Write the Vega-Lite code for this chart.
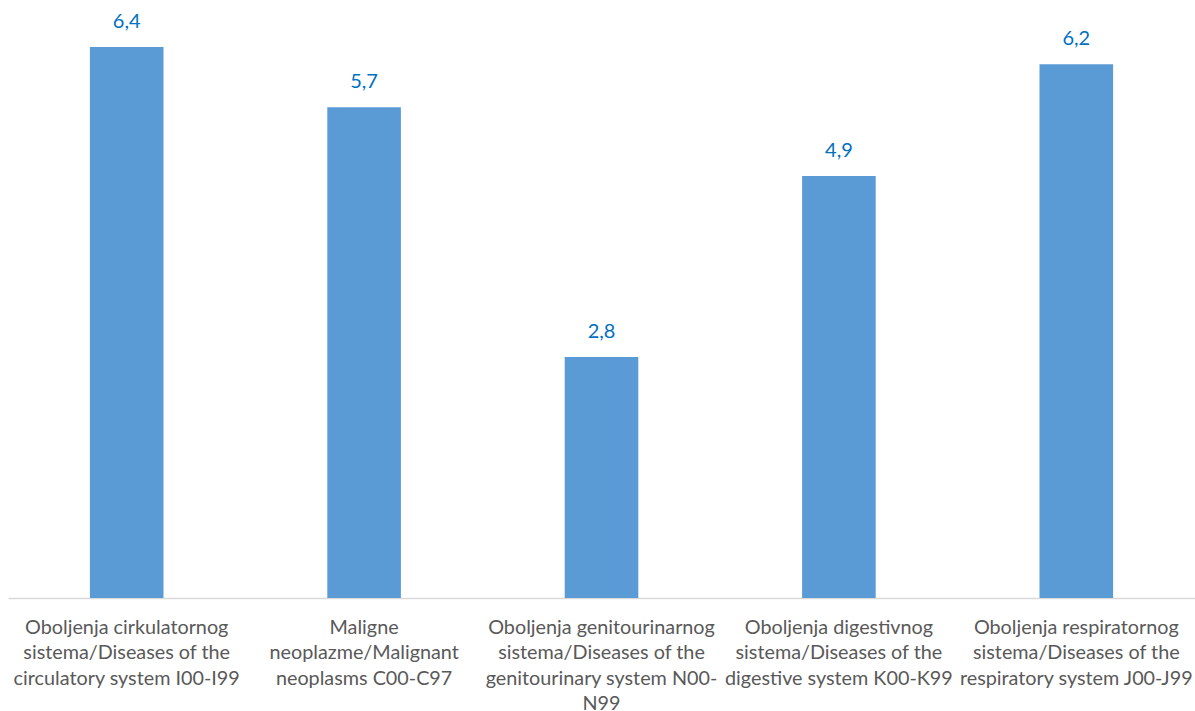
{
  "$schema": "https://vega.github.io/schema/vega-lite/v6.json",
  "width": 1187,
  "height": 598,
  "autosize": {"type": "none"},
  "padding": {"left": 8, "top": 0, "right": 0, "bottom": 113},
  "background": "white",
  "config": {
    "view": {"stroke": null},
    "locale": {"number": {"decimal": ",", "thousands": ".", "grouping": [3], "currency": ["", " €"]}}
  },
  "data": {
    "values": [
      {"cat": "Oboljenja cirkulatornog|sistema/Diseases of the|circulatory system I00-I99", "value": 6.4},
      {"cat": "Maligne|neoplazme/Malignant|neoplasms C00-C97", "value": 5.7},
      {"cat": "Oboljenja genitourinarnog|sistema/Diseases of the|genitourinary system N00-|N99", "value": 2.8},
      {"cat": "Oboljenja digestivnog|sistema/Diseases of the|digestive system K00-K99", "value": 4.9},
      {"cat": "Oboljenja respiratornog|sistema/Diseases of the|respiratory system J00-J99", "value": 6.2}
    ]
  },
  "encoding": {
    "x": {
      "field": "cat", "type": "nominal", "sort": null,
      "scale": {"paddingInner": 0.69, "paddingOuter": 0.345},
      "axis": {
        "title": null, "labelAngle": 0, "ticks": false,
        "domainColor": "#d9d9d9", "domainWidth": 1.5,
        "labelExpr": "split(datum.label, '|')",
        "labelFont": "Lato", "labelFontSize": 19.8, "labelColor": "#595959",
        "labelLineHeight": 25.5, "labelPadding": 19, "labelLimit": 0
      }
    },
    "y": {
      "field": "value", "type": "quantitative",
      "scale": {"domain": [0, 6.945], "nice": false},
      "axis": null
    }
  },
  "layer": [
    {"mark": {"type": "bar", "color": "#5B9BD5"}},
    {
      "mark": {"type": "text", "dy": -15, "baseline": "bottom", "font": "Lato", "fontSize": 20, "color": "#0070C0"},
      "encoding": {"text": {"field": "value", "type": "quantitative", "format": ".1f"}}
    }
  ]
}
